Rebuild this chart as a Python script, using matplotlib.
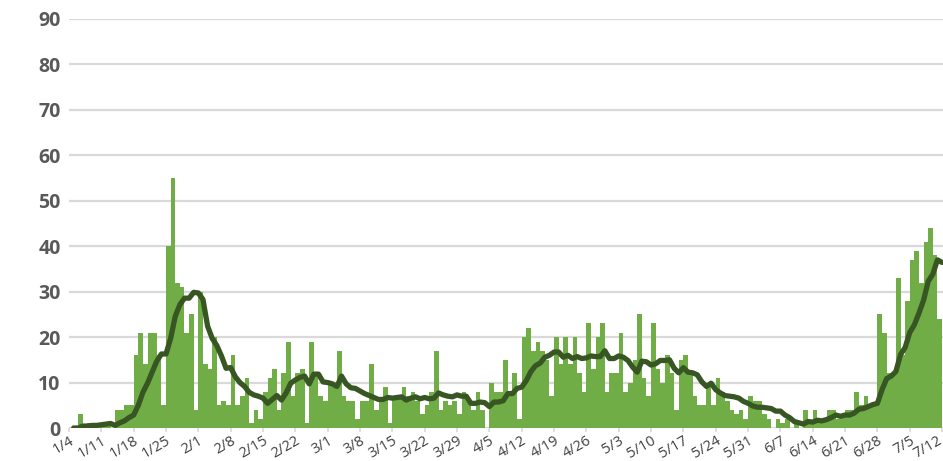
import matplotlib
matplotlib.use("Agg")
import matplotlib.pyplot as plt
import matplotlib.transforms as mtransforms
import numpy as np
import pandas as pd

# daily counts, 1/4 .. 7/11 (one per day)
cases = [
    0, 0, 3, 0, 1, 0, 1,
    1, 1, 0, 4, 4, 5, 5,
    16, 21, 14, 21, 21, 16, 5,
    40, 55, 32, 31, 21, 25, 4,
    30, 14, 13, 20, 5, 6, 5,
    16, 5, 7, 11, 1, 4, 2,
    8, 11, 13, 4, 12, 19, 7,
    12, 13, 1, 19, 12, 7, 6,
    10, 9, 17, 7, 6, 6, 2,
    6, 6, 14, 4, 6, 9, 1,
    7, 7, 9, 7, 8, 6, 3,
    5, 8, 17, 4, 6, 5, 6,
    3, 8, 6, 4, 8, 4, 0,
    10, 8, 8, 15, 8, 12, 2,
    20, 22, 17, 19, 17, 15, 7,
    20, 14, 20, 14, 20, 12, 8,
    23, 13, 20, 23, 8, 12, 12,
    21, 8, 10, 15, 25, 11, 7,
    23, 13, 10, 16, 12, 4, 15,
    16, 12, 7, 5, 5, 9, 5,
    11, 8, 6, 4, 3, 4, 2,
    7, 6, 6, 3, 2, 0, 2,
    1, 2, 0, 1, 0, 4, 1,
    4, 1, 2, 4, 4, 2, 3,
    4, 4, 8, 5, 7, 5, 5,
    25, 21, 12, 12, 33, 16, 28,
    37, 39, 32, 41, 44, 38, 24,
]

tick_labels = ["1/4", "1/11", "1/18", "1/25", "2/1", "2/8", "2/15", "2/22",
               "3/1", "3/8", "3/15", "3/22", "3/29", "4/5", "4/12", "4/19",
               "4/26", "5/3", "5/10", "5/17", "5/24", "5/31", "6/7", "6/14",
               "6/21", "6/28", "7/5", "7/12"]

BAR_COLOR = "#70ad47"
LINE_COLOR = "#375623"
GRID_COLOR = "#d9d9d9"

plt.rcParams["font.family"] = ["Open Sans", "DejaVu Sans"]


def main():
    n = len(cases)
    days = np.arange(n)
    avg = pd.Series(cases).rolling(7, min_periods=1).sum() / 7

    fig = plt.figure(figsize=(9.43, 4.61), dpi=100)
    ax = fig.add_axes([69 / 943, 33 / 461, 874 / 943, 409 / 461])

    ax.bar(days + 0.5, cases, width=1.0, color=BAR_COLOR, linewidth=0, zorder=2)
    ax.plot(days + 1, avg, color=LINE_COLOR, linewidth=3.8,
            solid_joinstyle="round", solid_capstyle="round", zorder=3)

    ax.set_xlim(0, 189.2)
    ax.set_ylim(0, 90)
    ax.set_yticks(range(0, 91, 10))
    ax.grid(axis="y", color=GRID_COLOR, linewidth=1.6, zorder=0)
    ax.set_axisbelow(True)

    ax.set_xticks(np.arange(len(tick_labels)) * 7)
    ax.set_xticklabels(tick_labels, rotation=30, ha="right",
                       rotation_mode="anchor", fontsize=10.5, color="#404040")
    ax.tick_params(axis="x", length=3, color=GRID_COLOR, width=1.2, pad=1)
    ax.tick_params(axis="y", length=0, labelsize=14, labelcolor="#595959", pad=6)
    for lbl in ax.get_yticklabels():
        lbl.set_fontweight("bold")

    # last label sits at the right edge, nudge it inside
    last = ax.get_xticklabels()[-1]
    shift = mtransforms.ScaledTranslation(-5 / 100, 0, fig.dpi_scale_trans)
    last.set_transform(last.get_transform() + shift)

    for side in ["top", "right", "left", "bottom"]:
        ax.spines[side].set_visible(False)

    fig.savefig("out.png", dpi=100)


if __name__ == "__main__":
    main()
